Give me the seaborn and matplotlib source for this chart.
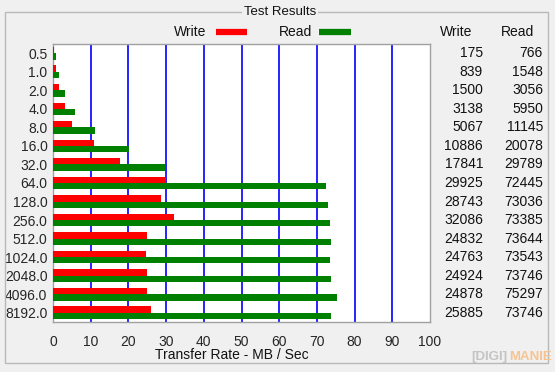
import matplotlib
matplotlib.use("Agg")
import matplotlib.pyplot as plt
from matplotlib.lines import Line2D
from matplotlib.patches import Rectangle
import seaborn as sns
import pandas as pd

sizes = ["0.5", "1.0", "2.0", "4.0", "8.0", "16.0", "32.0", "64.0", "128.0",
         "256.0", "512.0", "1024.0", "2048.0", "4096.0", "8192.0"]
write = [175, 839, 1500, 3138, 5067, 10886, 17841, 29925, 28743, 32086,
         24832, 24763, 24924, 24878, 25885]
read = [766, 1548, 3056, 5950, 11145, 20078, 29789, 72445, 73036, 73385,
        73644, 73543, 73746, 75297, 73746]
xticks = [0, 10, 20, 30, 40, 50, 60, 70, 80, 90, 100]

sns.set_style("white")
plt.rcParams["font.family"] = ["Liberation Sans", "DejaVu Sans"]
plt.rcParams["font.size"] = 9

W, H = 555, 372
fig = plt.figure(figsize=(W / 100, H / 100), dpi=100)
fig.patch.set_facecolor("#f0f0f0")

def fx(px):
    return px / W

def fy(py):
    return 1 - py / H

# group box
box = Rectangle((fx(5), fy(363)), fx(548) - fx(5), fy(12) - fy(363),
                transform=fig.transFigure, fill=False, edgecolor="#b8b8b8",
                linewidth=1.0)
fig.add_artist(box)
fig.text(fx(280), fy(12), "Test Results", ha="center", va="center",
         fontsize=9.5, color="#111111",
         bbox=dict(facecolor="#f0f0f0", edgecolor="none", pad=1.5))

left, right, top, bottom = 53, 430, 44, 322
ax = fig.add_axes([fx(left), fy(bottom), fx(right) - fx(left), fy(top) - fy(bottom)])
ax.set_facecolor("white")

df = pd.DataFrame({
    "size": sizes * 2,
    "rate": [v / 1000 for v in write] + [v / 1000 for v in read],
    "series": ["Write"] * len(sizes) + ["Read"] * len(sizes),
})
sns.barplot(data=df, y="size", x="rate", hue="series", order=sizes,
            hue_order=["Write", "Read"],
            palette={"Write": "#ff0000", "Read": "#008000"},
            orient="h", width=0.68, saturation=1, linewidth=0, legend=False,
            ax=ax, zorder=3)

ax.set_xlim(0, 100)
ax.set_xticks(xticks)
ax.set_xticklabels([str(t) for t in xticks], fontsize=10)
ax.tick_params(axis="x", length=0, pad=9)
ax.tick_params(axis="y", length=0, pad=4, labelsize=10)
for t in xticks[1:-1]:
    ax.axvline(t, color="#0000ff", linewidth=1.2, zorder=1)
ax.set_xlabel("")
ax.set_ylabel("")
for s in ax.spines.values():
    s.set_color("#a0a0a0")
    s.set_linewidth(1.0)

fig.text(fx(232), fy(355), "Transfer Rate - MB / Sec", ha="center", va="center",
         fontsize=10, color="#111111")

# legend
fig.text(fx(190), fy(32), "Write", ha="center", va="center", fontsize=10, color="#111111")
fig.add_artist(Line2D([fx(216), fx(247)], [fy(32), fy(32)], color="#ff0000",
                      linewidth=4.5, transform=fig.transFigure, solid_capstyle="butt"))
fig.text(fx(296), fy(32), "Read", ha="center", va="center", fontsize=10, color="#111111")
fig.add_artist(Line2D([fx(319), fx(351)], [fy(32), fy(32)], color="#008000",
                      linewidth=4.5, transform=fig.transFigure, solid_capstyle="butt"))

# value table
fig.text(fx(456), fy(32), "Write", ha="center", va="center", fontsize=10, color="#111111")
fig.text(fx(517), fy(32), "Read", ha="center", va="center", fontsize=10, color="#111111")
xw = (483 - left) / (right - left)
xr = (543 - left) / (right - left)
trans = ax.get_yaxis_transform()
for i, (w, r) in enumerate(zip(write, read)):
    ax.text(xw, i, str(w), transform=trans, ha="right", va="center",
            fontsize=10, color="#111111", clip_on=False)
    ax.text(xr, i, str(r), transform=trans, ha="right", va="center",
            fontsize=10, color="#111111", clip_on=False)

# watermark
fig.text(fx(471), fy(357), "[DIGI]", ha="left", va="center", fontsize=9.5,
         fontweight="bold", color="#c4c4c4")
fig.text(fx(509), fy(357), "MANIE", ha="left", va="center", fontsize=9.5,
         fontweight="bold", color="#f7c491")

fig.savefig("out.png", dpi=100, facecolor=fig.get_facecolor())
